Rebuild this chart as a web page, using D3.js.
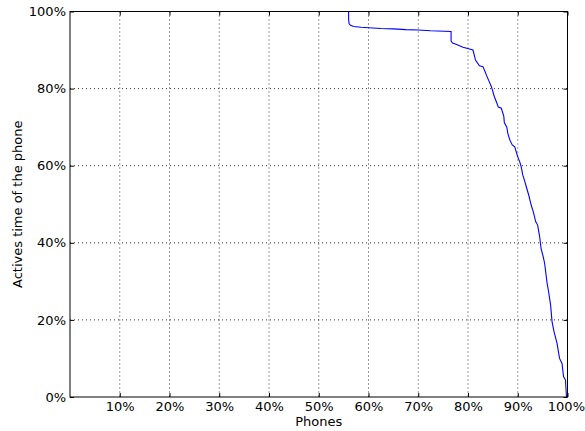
<!DOCTYPE html>
<html><head><meta charset="utf-8">
<script src="https://cdn.jsdelivr.net/npm/d3@7"></script>
<style>body{margin:0;background:#fff}svg{display:block}text{font-family:"DejaVu Sans",sans-serif}</style>
</head><body><svg id="c" width="585" height="431"></svg>
<script>
const xTicks = [10,20,30,40,50,60,70,80,90,100];
const yTicks = [0,20,40,60,80,100];
const phones = [56.0,56.0,56.1,56.4,57.0,58.5,60.0,62.5,65.0,67.5,70.0,72.5,76.6,76.6,76.9,77.6,79.0,80.5,81.0,81.3,81.5,82.3,83.0,83.4,83.7,84.2,84.7,85.3,85.7,86.1,86.7,87.2,87.3,87.8,88.0,88.4,88.9,89.4,90.0,90.4,90.7,91.0,91.4,91.7,92.2,92.7,93.2,93.6,94.0,94.4,94.7,95.1,95.4,95.9,96.2,96.6,96.9,97.3,97.9,98.4,98.9,99.2,99.6,99.7,99.8];
const active = [100,98.0,96.8,96.4,96.1,95.9,95.8,95.6,95.5,95.3,95.2,95.0,94.8,92.3,91.8,91.5,90.7,90.2,90.0,88.5,87.4,85.9,85.7,84.5,83.5,82.0,80.5,77.9,76.6,75.2,74.9,72.8,71.2,70.0,68.4,66.7,65.4,64.9,62.3,61.0,59.7,57.6,56.0,54.6,52.4,49.8,47.7,45.5,44.6,41.6,38.4,36.5,34.7,29.5,27.3,23.9,19.5,16.9,13.9,10.0,8.7,5.3,4.4,2.0,0];

const svg = d3.select("#c");
const L=70, R=567.5, T=11.5, B=397;
const x = d3.scaleLinear().domain([0,100]).range([L,R]);
const y = d3.scaleLinear().domain([0,100]).range([B,T]);
const fmt = d => d + "%";

// grid
const g = svg.append("g");
g.selectAll(".gx").data(xTicks.filter(d=>d<100)).join("line")
  .attr("x1",d=>x(d)).attr("x2",d=>x(d)).attr("y1",T).attr("y2",B)
  .attr("stroke","#000").attr("stroke-width",0.8).attr("stroke-dasharray","1,3");
g.selectAll(".gy").data(yTicks.filter(d=>d>0&&d<100)).join("line")
  .attr("y1",d=>y(d)).attr("y2",d=>y(d)).attr("x1",L).attr("x2",R)
  .attr("stroke","#000").attr("stroke-width",0.8).attr("stroke-dasharray","1,3");

// data line
const line = d3.line().x((d,i)=>x(phones[i])).y((d,i)=>y(active[i]));
svg.append("path").datum(phones).attr("d",line)
  .attr("fill","none").attr("stroke","#0000ff").attr("stroke-width",1.1);

// axes
const ax = svg.append("g").attr("transform",`translate(0,${B})`)
  .call(d3.axisBottom(x).tickValues(xTicks).tickFormat(fmt).tickSizeInner(-4).tickSizeOuter(0).tickPadding(5));
const ay = svg.append("g").attr("transform",`translate(${L},0)`)
  .call(d3.axisLeft(y).tickValues(yTicks).tickFormat(fmt).tickSizeInner(-4).tickSizeOuter(0).tickPadding(4));
const axt = svg.append("g").attr("transform",`translate(0,${T})`)
  .call(d3.axisTop(x).tickValues(xTicks).tickFormat("").tickSizeInner(-4).tickSizeOuter(0));
const ayr = svg.append("g").attr("transform",`translate(${R},0)`)
  .call(d3.axisRight(y).tickValues(yTicks).tickFormat("").tickSizeInner(-4).tickSizeOuter(0));
[ax,ay,axt,ayr].forEach(a=>{
  a.selectAll("text").attr("font-size",13).attr("fill","#000").style("font-family","DejaVu Sans");
  a.select(".domain").remove();
  a.selectAll(".tick line").attr("stroke","#000");
});
ax.selectAll(".tick text").filter(d=>d===100).attr("text-anchor","end").attr("x",17);
svg.append("rect").attr("x",L).attr("y",T).attr("width",R-L).attr("height",B-T)
  .attr("fill","none").attr("stroke","#000").attr("stroke-width",1);

svg.append("text").attr("x",(L+R)/2).attr("y",426).attr("text-anchor","middle")
  .attr("font-size",13).text("Phones");
svg.append("text").attr("transform",`translate(22,${(T+B)/2}) rotate(-90)`).attr("text-anchor","middle")
  .attr("font-size",13).text("Actives time of the phone");
</script></body></html>
